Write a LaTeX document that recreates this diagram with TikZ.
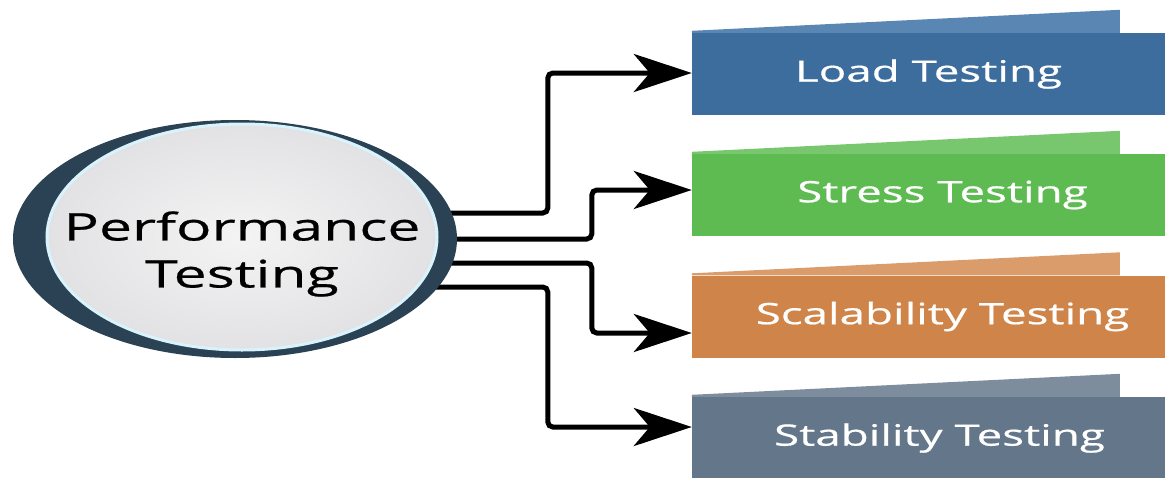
\documentclass[tikz,border=0pt]{standalone}
\usepackage{fontspec}
\usepackage{xcolor}
\usepackage{tikz}
\usetikzlibrary{calc}
\usetikzlibrary{arrows.meta}
\usetikzlibrary{shapes.geometric}
\usetikzlibrary{backgrounds}
\newfontfamily\widefont[FakeStretch=1.55, FakeBold=0.6]{Open Sans}
\definecolor{ringc}{HTML}{2A4253}
\definecolor{discc}{HTML}{E2E2E4}
\definecolor{loadc}{HTML}{3D6D9C}
\definecolor{loadt}{HTML}{5A86B3}
\definecolor{stressc}{HTML}{5DBB52}
\definecolor{stresst}{HTML}{78C76E}
\definecolor{scalc}{HTML}{CF854A}
\definecolor{scalt}{HTML}{DB9C6C}
\definecolor{stabc}{HTML}{64768A}
\definecolor{stabt}{HTML}{7E8D9D}
\tikzset{
  kind/.style={rectangle, fill=#1, minimum width=473pt, minimum height=82pt, inner sep=0,
    text=white, font=\widefont\fontsize{29.5}{34}\selectfont},
  conn/.style={black, line width=5pt, rounded corners=5pt,
    -{Stealth[length=58pt, width=38pt, inset=16pt]}}
}
\begin{document}
\begin{tikzpicture}[x=1pt, y=-1pt]
\useasboundingbox (0,0) rectangle (1165,477);
\node[ellipse, fill=ringc, minimum width=444pt, minimum height=238pt] (ring) at (235,239) {};
\node[ellipse, inner color=discc!40!white, outer color=discc, draw=white!85!cyan, line width=3pt, minimum width=390pt, minimum height=226pt] (disc) at (242,237) {};
\node[align=center, font=\widefont\fontsize{38}{47}\selectfont] (perf) at (242,254) {Performance\\Testing};
\node[kind=loadc] (load) at (928.5,74) {Load Testing};
\node[kind=stressc] (stress) at (928.5,195) {\hspace*{28pt}Stress Testing};
\node[kind=scalc] (scal) at (928.5,316.5) {\hspace*{28pt}Scalability Testing};
\node[kind=stabc] (stab) at (928.5,438) {\hspace*{22pt}Stability Testing};
\foreach \n/\c in {load/loadt, stress/stresst, scal/scalt, stab/stabt} {
  \fill[\c] (\n.north west) -- ++(0,-2) -- ++(428,-21) -- ++(0,23) -- cycle;
}
\begin{scope}[on background layer]
\draw[conn] ($(ring.east)+(-30,-26)$) -| ($(load.west)+(-144,-1)$) -- ($(load.west)+(0,-1)$);
\draw[conn] ($(ring.east)+(-30,0)$) -| ($(stress.west)+(-100,-5)$) -- ($(stress.west)+(0,-5)$);
\draw[conn] ($(ring.east)+(-30,24)$) -| ($(scal.west)+(-100,16.5)$) -- ($(scal.west)+(0,16.5)$);
\draw[conn] ($(ring.east)+(-30,48)$) -| ($(stab.west)+(-144,-11)$) -- ($(stab.west)+(0,-11)$);
\end{scope}
\end{tikzpicture}
\end{document}
